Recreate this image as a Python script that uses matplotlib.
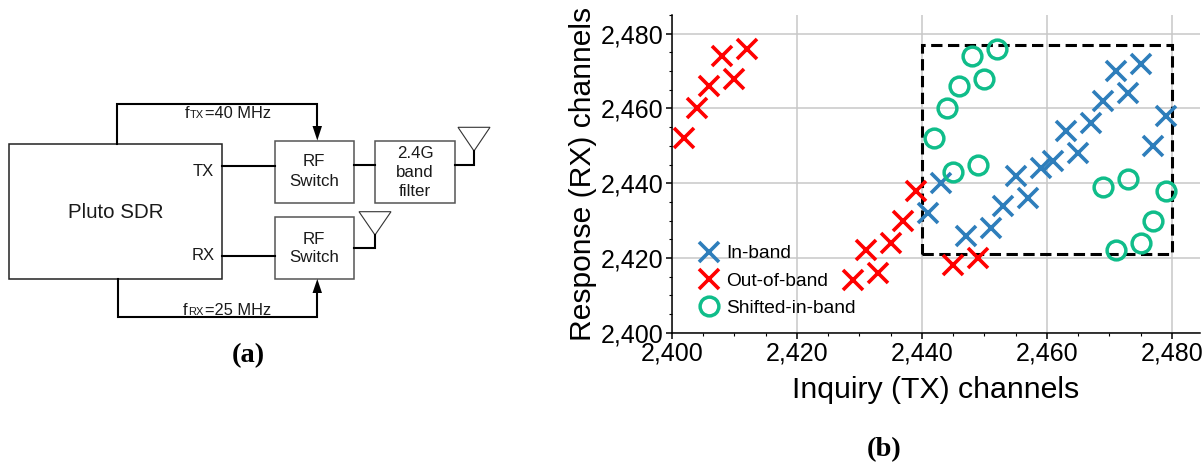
"""Pluto SDR setup diagram (a) and inquiry/response channel scatter (b)."""
import matplotlib
matplotlib.use('Agg')
import matplotlib.pyplot as plt
from matplotlib.lines import Line2D
from matplotlib.patches import Polygon, Rectangle
from matplotlib.ticker import FuncFormatter, MultipleLocator

W, H = 1202, 466

IN_BAND_TX = [2441, 2443, 2447, 2451, 2453, 2455, 2457, 2459, 2461, 2463,
              2465, 2467, 2469, 2471, 2473, 2475, 2477, 2479]
IN_BAND_RX = [2432, 2440, 2426, 2428, 2434, 2442, 2436, 2444, 2446, 2454,
              2448, 2456, 2462, 2470, 2464, 2472, 2450, 2458]
OUT_BAND_TX = [2402, 2404, 2406, 2408, 2410, 2412, 2429, 2431, 2433, 2435,
               2437, 2439, 2445, 2449]
OUT_BAND_RX = [2452, 2460, 2466, 2474, 2468, 2476, 2414, 2422, 2416, 2424,
               2430, 2438, 2418, 2420]
SHIFTED_TX = [2442, 2444, 2446, 2448, 2450, 2452, 2445, 2449, 2469, 2473,
              2479, 2477, 2475, 2471]
SHIFTED_RX = [2452, 2460, 2466, 2474, 2468, 2476, 2443, 2445, 2439, 2441,
              2438, 2430, 2424, 2422]
WINDOW_TX = (2440, 2480)
WINDOW_RX = (2421, 2477)

BLUE = '#2e7ebb'
RED = '#ff0000'
GREEN = '#10bd8a'

plt.rcParams['font.family'] = ['Liberation Sans', 'DejaVu Sans']

fig = plt.figure(figsize=(W / 100, H / 100), dpi=100)

# panel (a) is drawn on an overlay in pixel coordinates
dg = fig.add_axes([0, 0, 1, 1])
dg.set_xlim(0, W)
dg.set_ylim(H, 0)
dg.axis('off')


def box(x0, y0, x1, y1, color='#555555', lw=1.1):
    dg.add_patch(Rectangle((x0, y0), x1 - x0, y1 - y0, fill=False, ec=color, lw=lw))


def wire(xs, ys, lw=1.5):
    dg.plot(xs, ys, color='black', lw=lw, solid_capstyle='projecting', solid_joinstyle='miter')


def antenna(x, y0, y1):
    dg.add_patch(Polygon([(x - 16, y0), (x + 16, y0), (x, y1)], closed=True,
                         fill=False, ec='#333333', lw=0.8))


def label(x, y, s, size=12.2, **kw):
    dg.text(x, y, s, fontsize=size, ha=kw.pop('ha', 'center'), va=kw.pop('va', 'center'),
            color='#1a1a1a', **kw)


box(8.5, 144, 222, 279, color='#222222')
box(275, 141, 354, 203)
box(375, 141, 455, 203)
box(275, 217, 354, 279)

wire([222, 275], [166, 166])
wire([354, 375], [165, 165])
wire([455, 474, 474], [165, 165, 151])
wire([222, 275], [255.5, 255.5])
wire([354, 375, 375], [247.5, 247.5, 235])
wire([116.7, 116.7, 317.3, 317.3], [144, 104, 104, 128])
wire([118.3, 118.3, 317.3, 317.3], [279, 317.3, 317.3, 292])
dg.add_patch(Polygon([(312.5, 126), (322, 126), (317.3, 140.5)], closed=True, fc='black', ec='none'))
dg.add_patch(Polygon([(312.5, 293), (322, 293), (317.3, 279)], closed=True, fc='black', ec='none'))
antenna(474, 127.3, 151)
antenna(375, 211.7, 235)

label(115.7, 212.5, 'Pluto SDR', size=14.8)
label(203, 171.7, 'TX', size=12)
label(203, 255.7, 'RX', size=12)
label(314.3, 162, 'RF')
label(314.3, 181, 'Switch')
label(314.3, 239, 'RF')
label(314.3, 258, 'Switch')
label(415, 153.3, '2.4G')
label(415, 172.3, 'band')
label(415, 191.3, 'filter')

label(184.5, 118, 'f', size=11.8, ha='left', va='baseline')
label(190, 118, 'TX', size=8, ha='left', va='baseline')
label(205, 118, '=40 MHz', size=11.8, ha='left', va='baseline')
label(183, 315, 'f', size=11.8, ha='left', va='baseline')
label(188.5, 315, 'RX', size=8, ha='left', va='baseline')
label(205, 315, '=25 MHz', size=11.8, ha='left', va='baseline')

dg.text(248, 356, '(a)', fontsize=20.5, fontweight='bold', family='Liberation Serif',
        ha='center', va='center')
dg.text(884, 450, '(b)', fontsize=20.5, fontweight='bold', family='Liberation Serif',
        ha='center', va='center')

# panel (b)
ax = fig.add_axes([672 / W, (H - 332.7) / H, 528 / W, 317.7 / H])
ax.set_xlim(2400, 2484.5)
ax.set_ylim(2400, 2485)
ax.patch.set_alpha(0)

ax.grid(True, which='major', color='#c8c8c8', lw=1.1)
ax.set_axisbelow(True)
for side in ('top', 'right'):
    ax.spines[side].set_visible(False)
for side in ('left', 'bottom'):
    ax.spines[side].set_linewidth(1.1)

ax.xaxis.set_major_locator(MultipleLocator(20))
ax.xaxis.set_minor_locator(MultipleLocator(5))
ax.yaxis.set_major_locator(MultipleLocator(20))
ax.yaxis.set_minor_locator(MultipleLocator(5))
comma = FuncFormatter(lambda v, _: f'{int(v):,}')
ax.xaxis.set_major_formatter(comma)
ax.yaxis.set_major_formatter(comma)
ax.tick_params(which='major', length=4, width=1.1, labelsize=18, pad=2)
ax.tick_params(which='minor', length=2.2, width=0.8)

ax.plot(IN_BAND_TX, IN_BAND_RX, ls='none', marker='x', ms=14.5, mew=2.6, color=BLUE, clip_on=False)
ax.plot(OUT_BAND_TX, OUT_BAND_RX, ls='none', marker='x', ms=14.5, mew=2.6, color=RED, clip_on=False)
ax.plot(SHIFTED_TX, SHIFTED_RX, ls='none', marker='o', ms=13.5, mew=2.5, mec=GREEN, mfc='none', clip_on=False)

ax.add_patch(Rectangle((WINDOW_TX[0], WINDOW_RX[0]), WINDOW_TX[1] - WINDOW_TX[0],
                       WINDOW_RX[1] - WINDOW_RX[0], fill=False, ec='black', lw=2.2,
                       ls=(0, (3.7, 1.8))))

ax.set_xlabel('Inquiry (TX) channels', fontsize=21.8, labelpad=8)
ax.set_ylabel('Response (RX) channels', fontsize=21.6, labelpad=3, y=0.501)

handles = [
    Line2D([], [], ls='none', marker='x', ms=14.5, mew=2.6, color=BLUE),
    Line2D([], [], ls='none', marker='x', ms=14.5, mew=2.6, color=RED),
    Line2D([], [], ls='none', marker='o', ms=13.5, mew=2.5, mec=GREEN, mfc='none'),
]
ax.legend(handles, ['In-band', 'Out-of-band', 'Shifted-in-band'], frameon=False,
          fontsize=13.8, loc='lower left', bbox_to_anchor=(0.044, 0.049), borderaxespad=0,
          borderpad=0, labelspacing=0.52, handletextpad=0.2, handlelength=1.4)

fig.savefig('out.png', dpi=100)
plt.close(fig)
